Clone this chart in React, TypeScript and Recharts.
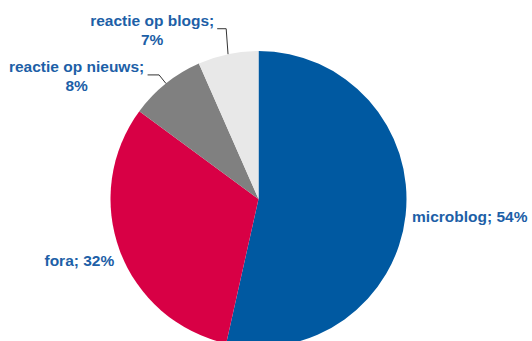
import { PieChart, Pie, Cell } from 'recharts'

// ─── Data ────────────────────────────────────────────────────────────────────
const categories = ['microblog', 'fora', 'reactie op nieuws', 'reactie op blogs']
const shares = [53.5, 31.6, 8.3, 6.6]
const sliceColors = ['#0059A1', '#D80045', '#808080', '#E8E8E8']

const data = categories.map((name, i) => ({ name, value: shares[i] }))

const TEXT = '#1D5FA7'
const FONT = "'Liberation Sans', Arial, sans-serif"

// Excel-like label placement: big slices get a plain outside label,
// the two small ones get a leader line and a wrapped label.
type Place =
  | { gap: number; dy: number; anchor: 'start' | 'end' }
  | { leader: number; dx: number; arm: number; half: number }

const placement: Place[] = [
  { gap: 6.5, dy: 6.5, anchor: 'start' },
  { gap: 6, dy: 13, anchor: 'end' },
  { leader: 11, dx: 0, arm: 11.5, half: 68 },
  { leader: 26, dx: 3.5, arm: 9, half: 62 },
]

function renderLabel(props: any) {
  const { cx, cy, midAngle, outerRadius, index, name, value } = props
  const p = placement[index]
  const a = (midAngle * Math.PI) / 180
  const at = (r: number) => ({ x: cx + r * Math.cos(a), y: cy - r * Math.sin(a) })
  const pct = `${Math.round(value)}%`

  if ('gap' in p) {
    const pt = at(outerRadius + p.gap)
    return (
      <text
        x={pt.x}
        y={pt.y + p.dy}
        textAnchor={p.anchor}
        fill={TEXT}
        fontFamily={FONT}
        fontWeight="bold"
        fontSize={15.5}
      >
        {`${name}; ${pct}`}
      </text>
    )
  }

  const edge = at(outerRadius)
  const elbow = at(outerRadius + p.leader)
  elbow.x += p.dx
  const endX = elbow.x - p.arm
  const textX = endX - 3 - p.half
  return (
    <g>
      <polyline
        points={`${edge.x},${edge.y} ${elbow.x},${elbow.y} ${endX},${elbow.y}`}
        fill="none"
        stroke="#333"
        strokeWidth={1}
      />
      <text
        x={textX}
        y={elbow.y - 2.5}
        textAnchor="middle"
        fill={TEXT}
        fontFamily={FONT}
        fontWeight="bold"
        fontSize={15.5}
      >
        <tspan x={textX}>{`${name};`}</tspan>
        <tspan x={textX} dy={18.5}>{pct}</tspan>
      </text>
    </g>
  )
}

export default function App() {
  return (
    <div style={{ position: 'absolute', left: 0, top: 0, width: 532, height: 341, background: '#fff' }}>
      <PieChart width={532} height={341} margin={{ top: 0, right: 0, bottom: 0, left: 0 }}>
        <Pie
          data={data}
          dataKey="value"
          nameKey="name"
          cx={258.5}
          cy={199}
          outerRadius={148}
          startAngle={90}
          endAngle={-270}
          stroke="none"
          label={renderLabel}
          labelLine={false}
          isAnimationActive={false}
        >
          {data.map((d, i) => (
            <Cell key={d.name} fill={sliceColors[i]} />
          ))}
        </Pie>
      </PieChart>
    </div>
  )
}
